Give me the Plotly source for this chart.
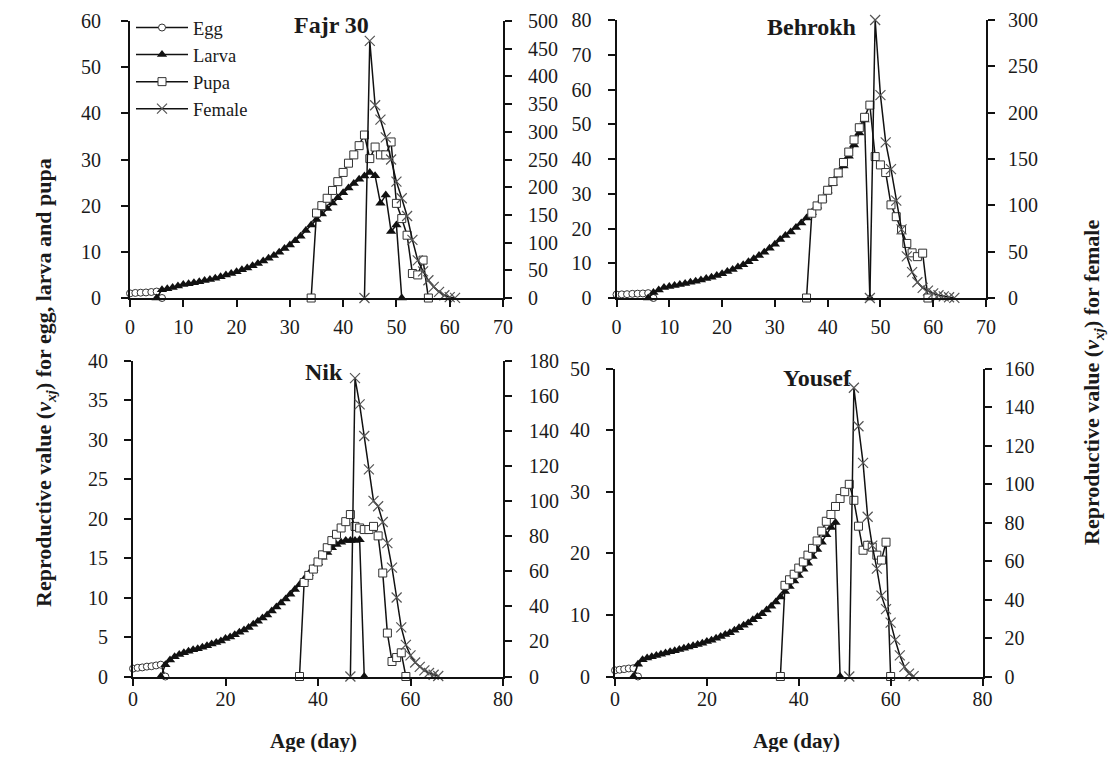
import plotly.graph_objects as go

# ---------------- data (age in days, reproductive value) ----------------
# Fajr 30
fajr_egg_start = 0
fajr_egg = [1.0, 1.1, 1.15, 1.2, 1.3, 1.4, 0.0]
fajr_larva_start = 5
fajr_larva = [0.0, 1.8, 2.0, 2.3, 2.6, 2.9, 3.1, 3.3, 3.5, 3.8, 4.0, 4.3, 4.6, 5.0, 5.3,
              5.7, 6.1, 6.5, 7.0, 7.5, 8.0, 8.6, 9.2, 9.9, 10.7, 11.5, 12.4, 13.4, 14.6,
              15.8, 17.0, 18.2, 19.4, 20.6, 21.7, 22.8, 23.8, 24.8, 25.7, 26.4, 27.2,
              26.5, 20.5, 22.3, 14.4, 15.8, 0.0]
fajr_pupa_start = 34
fajr_pupa = [0.0, 18.4, 20.0, 21.6, 23.3, 25.2, 27.2, 29.2, 31.0, 33.0, 35.3,
             30.2, 32.7, 31.0, 31.0, 33.8, 20.5, 17.2, 13.6, 5.3, 5.0, 8.2, 0.0]
fajr_female_start = 44
fajr_female = [0, 464, 348, 322, 290, 250, 210, 180, 148, 105, 68, 48, 32, 20, 11,
               5, 1.5, 0.3]

# Behrokh
behrokh_egg_start = 0
behrokh_egg = [1.0, 1.05, 1.1, 1.2, 1.25, 1.3, 1.4, 0.0]
behrokh_larva_start = 6
behrokh_larva = [0.0, 1.6, 2.3, 3.0, 3.3, 3.6, 3.9, 4.2, 4.5, 4.8, 5.2, 5.6, 6.0, 6.5,
                 7.0, 7.6, 8.2, 8.9, 9.6, 10.4, 11.3, 12.2, 13.2, 14.3, 15.5, 16.8,
                 18.0, 19.0, 20.3, 21.6, 23.0, 24.6, 26.4, 28.5, 30.8, 33.0, 35.4,
                 38.0, 40.8, 44.0, 47.5, 51.2, 0.0]
behrokh_pupa_start = 36
behrokh_pupa = [0.0, 24.4, 26.5, 28.5, 31.0, 33.5, 36.0, 39.0, 42.0, 45.5, 49.0, 52.0,
                55.5, 40.7, 38.3, 36.1, 26.8, 23.4, 19.6, 15.7, 13.0, 11.9, 12.9, 0.0]
behrokh_female_start = 48
behrokh_female = [0, 300, 219, 168, 139, 105, 74, 45, 28, 17, 11, 8, 5, 3, 1.7, 0.8, 0.2]

# Nik
nik_egg_start = 0
nik_egg = [1.0, 1.1, 1.15, 1.25, 1.3, 1.4, 1.5, 0.0]
nik_larva_start = 6
nik_larva = [0.0, 1.5, 2.1, 2.5, 2.8, 3.0, 3.2, 3.4, 3.5, 3.7, 3.9, 4.1, 4.3, 4.5, 4.8,
             5.0, 5.3, 5.6, 5.9, 6.2, 6.6, 7.0, 7.4, 7.8, 8.3, 8.8, 9.3, 9.8, 10.4,
             11.0, 11.6, 12.3, 13.0, 13.7, 14.4, 15.1, 15.7, 16.3, 16.7, 17.0, 17.2,
             17.2, 17.2, 17.3, 0.0]
nik_pupa_start = 36
nik_pupa = [0.0, 11.9, 12.8, 13.6, 14.5, 15.4, 16.3, 17.2, 18.0, 18.8, 19.6, 20.5,
            19.0, 18.8, 18.6, 18.6, 19.0, 17.8, 13.1, 5.5, 1.9, 2.4, 3.0, 0.0]
nik_female_start = 47
nik_female = [0, 170, 155, 137, 118, 100, 97, 88, 76, 62, 45, 28, 18, 12, 8, 5.5, 3.5,
              2, 1, 0.3]

# Yousef
yousef_egg_start = 0
yousef_egg = [1.0, 1.1, 1.2, 1.3, 1.35, 0.0]
yousef_larva_start = 4
yousef_larva = [0.0, 2.0, 2.7, 3.0, 3.2, 3.4, 3.6, 3.8, 4.0, 4.2, 4.4, 4.6, 4.8, 5.0,
                5.2, 5.4, 5.7, 5.9, 6.2, 6.5, 6.8, 7.1, 7.5, 7.9, 8.3, 8.7, 9.2, 9.7,
                10.2, 10.8, 11.4, 12.1, 12.9, 13.8, 14.6, 15.5, 16.4, 17.4, 18.4, 19.5,
                20.6, 21.8, 23.0, 24.2, 25.0, 0.0]
yousef_pupa_start = 36
yousef_pupa = [0.0, 14.8, 15.7, 16.6, 17.6, 18.6, 19.7, 20.8, 22.0, 23.6, 25.2, 26.3,
               27.6, 28.9, 30.0, 31.2, 28.6, 24.4, 20.5, 21.3, 21.0, 19.7, 18.9, 21.8, 0.0]
yousef_female_start = 51
yousef_female = [0, 150, 130, 111, 83, 68, 56, 42, 35, 28, 19, 11, 5, 1.5, 0.2]

stage_names = ["Egg", "Larva", "Pupa", "Female"]
panel_titles = ["Fajr 30", "Behrokh", "Nik", "Yousef"]

# ---------------- layout helpers ----------------
OFF = 8
W, H = 1103, 744


def px(X):
    return (X - OFF) / W


def py(Y):
    return 1 - (Y - OFF) / H


FONT = "Liberation Serif, Times New Roman, serif"
INK = "#111111"
TXT = "#1a1a1a"

panels = [
    dict(title=panel_titles[0], x="x", yl="y", yr="y2",
         data=[(fajr_egg_start, fajr_egg), (fajr_larva_start, fajr_larva),
               (fajr_pupa_start, fajr_pupa), (fajr_female_start, fajr_female)]),
    dict(title=panel_titles[1], x="x2", yl="y3", yr="y4",
         data=[(behrokh_egg_start, behrokh_egg), (behrokh_larva_start, behrokh_larva),
               (behrokh_pupa_start, behrokh_pupa), (behrokh_female_start, behrokh_female)]),
    dict(title=panel_titles[2], x="x3", yl="y5", yr="y6",
         data=[(nik_egg_start, nik_egg), (nik_larva_start, nik_larva),
               (nik_pupa_start, nik_pupa), (nik_female_start, nik_female)]),
    dict(title=panel_titles[3], x="x4", yl="y7", yr="y8",
         data=[(yousef_egg_start, yousef_egg), (yousef_larva_start, yousef_larva),
               (yousef_pupa_start, yousef_pupa), (yousef_female_start, yousef_female)]),
]

markers = [
    dict(symbol="circle", size=7, color="white", line=dict(color="#333333", width=1)),
    dict(symbol="triangle-up", size=9, color=INK, line=dict(color=INK, width=0)),
    dict(symbol="square", size=8, color="white", line=dict(color="#333333", width=1)),
    dict(symbol="x-thin", size=10, color="#555555", line=dict(color="#555555", width=1.2)),
]

fig = go.Figure()
for pi, p in enumerate(panels):
    for si, (start, vals) in enumerate(p["data"]):
        ages = list(range(start, start + len(vals)))
        fig.add_trace(go.Scatter(
            x=ages, y=vals, mode="lines+markers", name=stage_names[si],
            xaxis=p["x"], yaxis=p["yr"] if si == 3 else p["yl"],
            line=dict(color=INK, width=1.5), marker=markers[si],
            cliponaxis=False, showlegend=(pi == 0), legendrank=si + 1,
        ))

tickfont = dict(family=FONT, size=20, color=TXT)
common = dict(showline=True, linecolor=INK, linewidth=2, ticks="outside", ticklen=7,
              tickwidth=2, tickcolor=INK, showgrid=False, zeroline=False,
              tickfont=tickfont, fixedrange=True, automargin=False)

dom = {
    0: dict(x=[px(130), px(503)], y=[py(298), py(21)]),
    1: dict(x=[px(616.5), px(986)], y=[py(298), py(20)]),
    2: dict(x=[px(133), px(503)], y=[py(676.5), py(360.5)]),
    3: dict(x=[px(615), px(982.5)], y=[py(676.5), py(368.5)]),
}
xr = [(70, 10), (70, 10), (80, 20), (80, 20)]
ylr = [(60, 10), (80, 10), (40, 5), (50, 10)]
yrr = [(500, 50), (300, 50), (180, 20), (160, 20)]
x_standoff = [3, 3, -4, -4]
yl_standoff = [16, 12, 12, 12]
yr_standoff = [12, 9, 13, 9]

layout = dict(
    template="none",
    width=W, height=H, margin=dict(l=0, r=0, t=0, b=0, pad=0, autoexpand=False),
    paper_bgcolor="white", plot_bgcolor="white",
    font=dict(family=FONT, color=TXT),
    legend=dict(x=px(131), y=py(9), xanchor="left", yanchor="top",
                bgcolor="rgba(0,0,0,0)", borderwidth=0,
                font=dict(family=FONT, size=18.5, color=TXT),
                tracegroupgap=0, itemwidth=52),
)
axis_names = [("xaxis", "yaxis", "yaxis2"), ("xaxis2", "yaxis3", "yaxis4"),
              ("xaxis3", "yaxis5", "yaxis6"), ("xaxis4", "yaxis7", "yaxis8")]
for i, (xa, yl, yr) in enumerate(axis_names):
    p = panels[i]
    layout[xa] = dict(common, domain=dom[i]["x"], anchor=p["yl"],
                      ticklabelstandoff=x_standoff[i],
                      range=[0, xr[i][0]], dtick=xr[i][1], tick0=0)
    layout[yl] = dict(common, domain=dom[i]["y"], anchor=p["x"],
                      ticklabelstandoff=yl_standoff[i],
                      range=[0, ylr[i][0]], dtick=ylr[i][1], tick0=0)
    layout[yr] = dict(common, overlaying=p["yl"], side="right", anchor=p["x"],
                      ticklabelstandoff=yr_standoff[i],
                      range=[0, yrr[i][0]], dtick=yrr[i][1], tick0=0)

fig.update_layout(**layout)

ann = []
title_pos = [(331, 25), (811, 27), (324, 372), (817, 378)]
for t, (X, Y) in zip(panel_titles, title_pos):
    ann.append(dict(text="<b>%s</b>" % t, x=px(X), y=py(Y), xref="paper", yref="paper",
                    xanchor="center", yanchor="middle",
                    showarrow=False, font=dict(family=FONT, size=24, color=TXT)))
for X in (313, 796):
    ann.append(dict(text="<b>Age (day)</b>", x=px(X), y=py(741), xref="paper", yref="paper",
                    xanchor="center", yanchor="middle",
                    showarrow=False, font=dict(family=FONT, size=21, color=TXT)))
ann.append(dict(text="<b>Reproductive value (<i>v<sub>xj</sub></i>) for egg, larva and pupa</b>",
                x=px(45), y=py(383), xref="paper", yref="paper", textangle=-90,
                xanchor="center", yanchor="middle",
                showarrow=False, font=dict(family=FONT, size=22, color=TXT)))
ann.append(dict(text="<b>Reproductive value (<i>v<sub>xj</sub></i>) for female</b>",
                x=px(1093), y=py(383), xref="paper", yref="paper", textangle=-90,
                xanchor="center", yanchor="middle",
                showarrow=False, font=dict(family=FONT, size=22, color=TXT)))
fig.update_layout(annotations=ann)

fig.write_html("out.html")
